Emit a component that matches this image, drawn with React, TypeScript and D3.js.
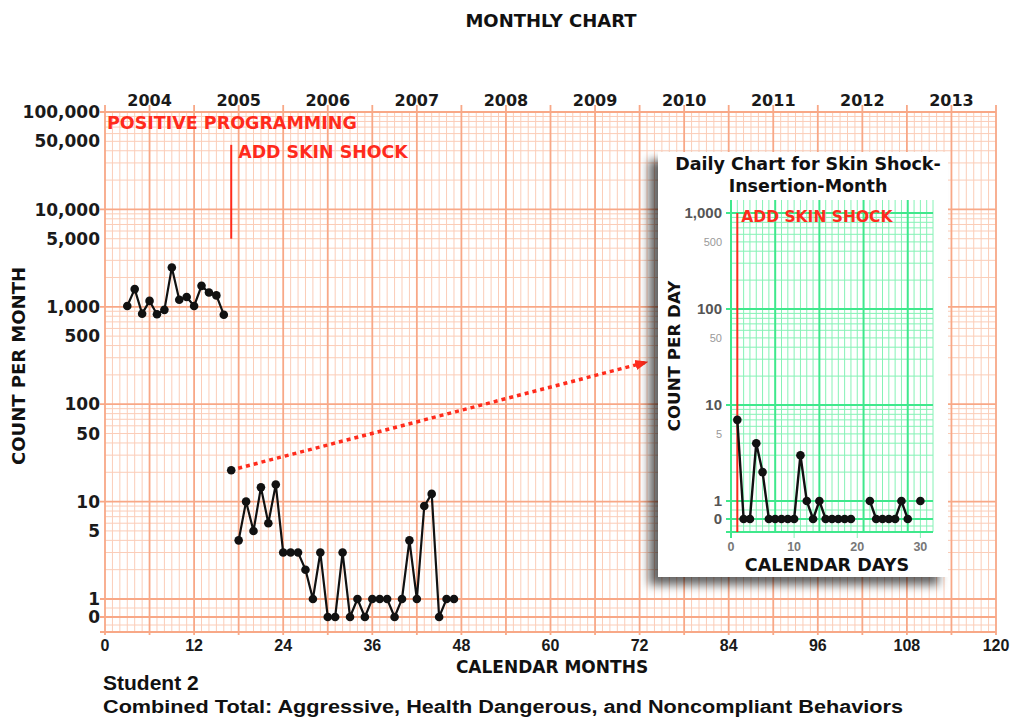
import React, { useEffect, useRef } from "react";
import * as d3 from "d3";

// monthly totals (count per month)
const baselineMonths = [3, 4, 5, 6, 7, 8, 9, 10, 11, 12, 13, 14, 15, 16];
const baselineCounts = [1020, 1520, 850, 1150, 840, 930, 2530, 1180, 1260, 1020, 1640, 1400, 1310, 830];
const insertionMonths = [17];
const insertionCounts = [21];
const shockMonths = [18, 19, 20, 21, 22, 23, 24, 25, 26, 27, 28, 29, 30, 31, 32, 33, 34, 35, 36, 37, 38, 39, 40, 41, 42, 43, 44, 45, 46, 47];
const shockCounts = [4, 10, 5, 14, 6, 15, 3, 3, 3, 2, 1, 3, 0, 0, 3, 0, 1, 0, 1, 1, 1, 0, 1, 4, 1, 9, 12, 0, 1, 1];

const monthTicks = [0, 12, 24, 36, 48, 60, 72, 84, 96, 108, 120];
const yearLabels = ["2004", "2005", "2006", "2007", "2008", "2009", "2010", "2011", "2012", "2013"];
const countTicks = [100000, 50000, 10000, 5000, 1000, 500, 100, 50, 10, 5, 1, 0];

// daily chart for the insertion month (null = no record)
const dailyDays = [1, 2, 3, 4, 5, 6, 7, 8, 9, 10, 11, 12, 13, 14, 15, 16, 17, 18, 19, 20, 21, 22, 23, 24, 25, 26, 27, 28, 29, 30];
const dailyCounts = [7, 0, 0, 4, 2, 0, 0, 0, 0, 0, 3, 1, 0, 1, 0, 0, 0, 0, 0, null, null, 1, 0, 0, 0, 0, 1, 0, null, 1];
const dayTicks = [0, 10, 20, 30];
const dailyCountTicks = [1000, 500, 100, 50, 10, 5, 1, 0];

const RED = "#ff2b1c";
const HEAVY = "#f8a887";
const LIGHT = "#fbcdb8";
const GREEN = "#3fe88c";
const GREEN_LIGHT = "#86f2b6";
const FONT = "'DejaVu Sans', sans-serif";
const NARROW = "'Liberation Sans', Arial, sans-serif";

export default function App() {
  const ref = useRef<SVGSVGElement>(null);

  useEffect(() => {
    const svg = d3.select(ref.current);
    svg.selectAll("*").remove();
    const defs = svg.append("defs");

    const shadow = defs
      .append("filter")
      .attr("id", "shadow")
      .attr("x", "-20%")
      .attr("y", "-20%")
      .attr("width", "140%")
      .attr("height", "140%");
    shadow
      .append("feDropShadow")
      .attr("dx", -9)
      .attr("dy", 8)
      .attr("stdDeviation", 5)
      .attr("flood-color", "#000")
      .attr("flood-opacity", 0.6);

    defs
      .append("marker")
      .attr("id", "arrow")
      .attr("viewBox", "0 0 10 10")
      .attr("refX", 9)
      .attr("refY", 5)
      .attr("markerWidth", 13)
      .attr("markerHeight", 13)
      .attr("markerUnits", "userSpaceOnUse")
      .attr("orient", "auto")
      .append("path")
      .attr("d", "M0,1 L10,5 L0,9 z")
      .attr("fill", RED);

    // ---------- main monthly chart ----------
    const x = d3.scaleLinear().domain([0, 120]).range([105, 996]);
    const y = d3.scaleLog().domain([1, 100000]).range([599, 112]);
    const topY = 112;
    const zeroY = 617;
    const bottomY = 632;
    const yPos = (v: number) => (v === 0 ? zeroY : y(v));

    const grid = svg.append("g");
    const minorVals = d3.range(0, 5).flatMap((p) => d3.range(2, 10).map((k) => k * Math.pow(10, p)));
    grid
      .selectAll(".hmin")
      .data(minorVals)
      .join("line")
      .attr("x1", x(0))
      .attr("x2", x(120))
      .attr("y1", (d) => y(d))
      .attr("y2", (d) => y(d))
      .attr("stroke", LIGHT)
      .attr("stroke-width", 1);
    grid
      .selectAll(".hsub")
      .data([608, 625])
      .join("line")
      .attr("x1", x(0))
      .attr("x2", x(120))
      .attr("y1", (d) => d)
      .attr("y2", (d) => d)
      .attr("stroke", LIGHT)
      .attr("stroke-width", 1);

    const months = d3.range(0, 121);
    grid
      .selectAll(".vline")
      .data(months)
      .join("line")
      .attr("x1", (d) => x(d))
      .attr("x2", (d) => x(d))
      .attr("y1", (d) => (d % 6 === 0 ? topY - 7 : topY))
      .attr("y2", (d) => (d % 6 === 0 ? bottomY + 3 : bottomY))
      .attr("stroke", (d) => (d % 6 === 0 ? HEAVY : LIGHT))
      .attr("stroke-width", (d) => (d % 6 === 0 ? 1.8 : 1));

    const majors = [1, 10, 100, 1000, 10000, 100000];
    grid
      .selectAll(".hmaj")
      .data([...majors.map((d) => y(d)), zeroY, bottomY])
      .join("line")
      .attr("x1", x(0) - 5)
      .attr("x2", x(120))
      .attr("y1", (d) => d)
      .attr("y2", (d) => d)
      .attr("stroke", HEAVY)
      .attr("stroke-width", 1.8);

    // tick labels
    svg
      .append("g")
      .selectAll("text")
      .data(countTicks)
      .join("text")
      .attr("x", 100)
      .attr("y", (d) => yPos(d))
      .attr("dy", "0.36em")
      .attr("text-anchor", "end")
      .attr("font-family", FONT)
      .attr("font-weight", "bold")
      .attr("font-size", 17)
      .attr("fill", "#1a1a1a")
      .text((d) => d3.format(",")(d));

    svg
      .append("g")
      .selectAll("text")
      .data(monthTicks)
      .join("text")
      .attr("x", (d) => x(d))
      .attr("y", 651)
      .attr("text-anchor", "middle")
      .attr("font-family", NARROW)
      .attr("font-weight", "bold")
      .attr("font-size", 16)
      .attr("fill", "#1a1a1a")
      .text((d) => d);

    svg
      .append("g")
      .selectAll("text")
      .data(yearLabels)
      .join("text")
      .attr("x", (d, i) => x(i * 12 + 6))
      .attr("y", 106)
      .attr("text-anchor", "middle")
      .attr("font-family", FONT)
      .attr("font-weight", "bold")
      .attr("font-size", 16)
      .attr("fill", "#1a1a1a")
      .text((d) => d);

    svg
      .append("text")
      .attr("x", 551)
      .attr("y", 27)
      .attr("text-anchor", "middle")
      .attr("font-family", FONT)
      .attr("font-weight", "bold")
      .attr("font-size", 18)
      .attr("fill", "#111")
      .text("MONTHLY CHART");

    svg
      .append("text")
      .attr("transform", "translate(25,366) rotate(-90)")
      .attr("text-anchor", "middle")
      .attr("font-family", FONT)
      .attr("font-weight", "bold")
      .attr("font-size", 18)
      .attr("fill", "#111")
      .text("COUNT PER MONTH");

    svg
      .append("text")
      .attr("x", 552)
      .attr("y", 673)
      .attr("text-anchor", "middle")
      .attr("font-family", FONT)
      .attr("font-weight", "bold")
      .attr("font-size", 17)
      .attr("fill", "#111")
      .text("CALENDAR MONTHS");

    svg
      .append("text")
      .attr("x", 103)
      .attr("y", 690)
      .attr("font-family", NARROW)
      .attr("font-weight", "bold")
      .attr("font-size", 21)
      .attr("fill", "#111")
      .text("Student 2");

    svg
      .append("text")
      .attr("x", 103)
      .attr("y", 713)
      .attr("font-family", NARROW)
      .attr("font-weight", "bold")
      .attr("font-size", 18)
      .attr("textLength", 800)
      .attr("lengthAdjust", "spacingAndGlyphs")
      .attr("fill", "#111")
      .text("Combined Total: Aggressive, Health Dangerous, and Noncompliant Behaviors");

    // phase annotations
    svg
      .append("text")
      .attr("x", 107)
      .attr("y", 129)
      .attr("font-family", FONT)
      .attr("font-weight", "bold")
      .attr("font-size", 17.5)
      .attr("fill", RED)
      .text("POSITIVE PROGRAMMING");

    svg
      .append("line")
      .attr("x1", x(17))
      .attr("x2", x(17))
      .attr("y1", y(46000))
      .attr("y2", y(5000))
      .attr("stroke", RED)
      .attr("stroke-width", 2);

    svg
      .append("text")
      .attr("x", x(17) + 7)
      .attr("y", 158)
      .attr("font-family", FONT)
      .attr("font-weight", "bold")
      .attr("font-size", 17.4)
      .attr("fill", RED)
      .text("ADD SKIN SHOCK");

    // dotted arrow from the insertion month to the daily chart
    svg
      .append("line")
      .attr("x1", x(insertionMonths[0]) + 7)
      .attr("y1", y(insertionCounts[0]) - 2)
      .attr("x2", 647)
      .attr("y2", 362)
      .attr("stroke", RED)
      .attr("stroke-width", 3.5)
      .attr("stroke-dasharray", "4,4")
      .attr("marker-end", "url(#arrow)");

    // data
    const data = svg.append("g");
    const line = d3
      .line<[number, number]>()
      .x((d) => x(d[0]))
      .y((d) => yPos(d[1]));
    const series = [
      d3.zip(baselineMonths, baselineCounts),
      d3.zip(insertionMonths, insertionCounts),
      d3.zip(shockMonths, shockCounts),
    ] as [number, number][][];
    series.forEach((pts) => {
      data
        .append("path")
        .attr("d", line(pts))
        .attr("fill", "none")
        .attr("stroke", "#111")
        .attr("stroke-width", 2.2);
      data
        .append("g")
        .selectAll("circle")
        .data(pts)
        .join("circle")
        .attr("cx", (d) => x(d[0]))
        .attr("cy", (d) => yPos(d[1]))
        .attr("r", 4.3)
        .attr("fill", "#111");
    });

    // ---------- inset daily chart ----------
    const inset = svg.append("g");
    inset
      .append("rect")
      .attr("x", 658)
      .attr("y", 152)
      .attr("width", 290)
      .attr("height", 425)
      .attr("fill", "#fff")
      .attr("filter", "url(#shadow)");

    const ix = d3.scaleLinear().domain([0, 32]).range([731, 933]);
    const iy = d3.scaleLog().domain([1, 1000]).range([501, 213]);
    const iTop = 200;
    const iZero = 519;
    const iBottom = 532;
    const iyPos = (v: number) => (v === 0 ? iZero : iy(v));

    const iMinor = d3.range(0, 3).flatMap((p) => d3.range(2, 10).map((k) => k * Math.pow(10, p)));
    inset
      .selectAll(".ihmin")
      .data([...iMinor.map((d) => iy(d)), 510, 526])
      .join("line")
      .attr("x1", ix(0))
      .attr("x2", ix(32))
      .attr("y1", (d) => d)
      .attr("y2", (d) => d)
      .attr("stroke", GREEN_LIGHT)
      .attr("stroke-width", 1);

    const days = d3.range(0, 33);
    inset
      .selectAll(".ivline")
      .data(days)
      .join("line")
      .attr("x1", (d) => ix(d))
      .attr("x2", (d) => ix(d))
      .attr("y1", iTop)
      .attr("y2", (d) => (d % 10 === 0 ? iBottom + 6 : iBottom))
      .attr("stroke", (d) => (d % 7 === 0 ? GREEN : GREEN_LIGHT))
      .attr("stroke-width", (d) => (d % 7 === 0 ? 2 : 1));

    inset
      .selectAll(".ihmaj")
      .data([...[1, 10, 100, 1000].map((d) => iy(d)), iZero, iBottom])
      .join("line")
      .attr("x1", ix(0) - 5)
      .attr("x2", ix(32))
      .attr("y1", (d) => d)
      .attr("y2", (d) => d)
      .attr("stroke", GREEN)
      .attr("stroke-width", 2);

    inset
      .append("g")
      .selectAll("text")
      .data(dailyCountTicks)
      .join("text")
      .attr("x", 722)
      .attr("y", (d) => iyPos(d))
      .attr("dy", "0.36em")
      .attr("text-anchor", "end")
      .attr("font-family", NARROW)
      .attr("font-weight", (d) => (d === 0 || String(d)[0] === "1" ? "bold" : "normal"))
      .attr("font-size", (d) => (d === 0 || String(d)[0] === "1" ? 15 : 11))
      .attr("fill", (d) => (d === 0 || String(d)[0] === "1" ? "#555" : "#999"))
      .text((d) => d3.format(",")(d));

    inset
      .append("g")
      .selectAll("text")
      .data(dayTicks)
      .join("text")
      .attr("x", (d) => ix(d))
      .attr("y", 551)
      .attr("text-anchor", "middle")
      .attr("font-family", NARROW)
      .attr("font-weight", "bold")
      .attr("font-size", 12.5)
      .attr("fill", "#777")
      .text((d) => d);

    inset
      .selectAll(".ititle")
      .data(["Daily Chart for Skin Shock-", "Insertion-Month"])
      .join("text")
      .attr("x", 808)
      .attr("y", (d, i) => 170 + i * 22)
      .attr("text-anchor", "middle")
      .attr("font-family", FONT)
      .attr("font-weight", "bold")
      .attr("font-size", 17.5)
      .attr("fill", "#111")
      .text((d) => d);

    inset
      .append("text")
      .attr("transform", "translate(680,356) rotate(-90)")
      .attr("text-anchor", "middle")
      .attr("font-family", FONT)
      .attr("font-weight", "bold")
      .attr("font-size", 16.7)
      .attr("fill", "#111")
      .text("COUNT PER DAY");

    inset
      .append("text")
      .attr("x", 827)
      .attr("y", 571)
      .attr("text-anchor", "middle")
      .attr("font-family", FONT)
      .attr("font-weight", "bold")
      .attr("font-size", 17.6)
      .attr("fill", "#111")
      .text("CALENDAR DAYS");

    inset
      .append("line")
      .attr("x1", ix(1))
      .attr("x2", ix(1))
      .attr("y1", iy(1000))
      .attr("y2", iBottom)
      .attr("stroke", RED)
      .attr("stroke-width", 2);

    inset
      .append("text")
      .attr("x", ix(1) + 4)
      .attr("y", 222)
      .attr("font-family", FONT)
      .attr("font-weight", "bold")
      .attr("font-size", 15.5)
      .attr("fill", RED)
      .text("ADD SKIN SHOCK");

    const daily = dailyDays.map((d, i) => ({ day: d, count: dailyCounts[i] }));
    const dLine = d3
      .line<{ day: number; count: number | null }>()
      .defined((d) => d.count !== null)
      .x((d) => ix(d.day))
      .y((d) => iyPos(d.count as number));
    inset
      .append("path")
      .attr("d", dLine(daily))
      .attr("fill", "none")
      .attr("stroke", "#111")
      .attr("stroke-width", 2.4);
    inset
      .append("g")
      .selectAll("circle")
      .data(daily.filter((d) => d.count !== null))
      .join("circle")
      .attr("cx", (d) => ix(d.day))
      .attr("cy", (d) => iyPos(d.count as number))
      .attr("r", 4.3)
      .attr("fill", "#111");
  }, []);

  return (
    <svg
      ref={ref}
      width={1016}
      height={717}
      style={{ position: "absolute", left: 0, top: 0, background: "#fff" }}
    />
  );
}
